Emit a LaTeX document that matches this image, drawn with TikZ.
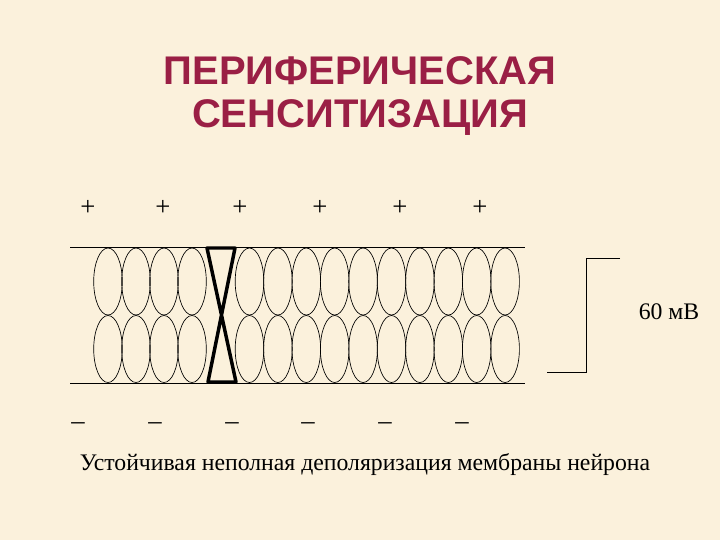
\documentclass[tikz,border=0pt]{standalone}
\usepackage{fontspec}
\setmainfont{Liberation Serif}
\newfontfamily\titlefont{Liberation Sans}
\definecolor{bg}{HTML}{FBF1DC}
\definecolor{ttl}{HTML}{9A1F45}
\begin{document}
\begin{tikzpicture}[x=0.75pt,y=-0.75pt,
  cell/.style={draw,line width=0.5pt},
  sign/.style={font=\fontsize{20}{20}\selectfont},
  lbl/.style={font=\fontsize{17.8}{20}\selectfont}]
\fill[bg] (0,0) rectangle (720,540);
\useasboundingbox (0,0) rectangle (720,540);
\node[font=\titlefont\bfseries\fontsize{30}{32.5}\selectfont,text=ttl,align=center] (title) at (360,96) {ПЕРИФЕРИЧЕСКАЯ\\СЕНСИТИЗАЦИЯ};
\foreach \x [count=\i] in {88,163,240,320,400,480}
  \node[sign] (p\i) at (\x,208) {+};
\foreach \x [count=\i] in {78,155,232,308,385,462}
  \node[sign] (m\i) at (\x,426) {--};
\draw[line width=0.6pt] (70,247) coordinate (tl) -- (525,247) coordinate (tr);
\draw[line width=0.6pt] (70,383) coordinate (bl) -- (525,383) coordinate (br);
\foreach \c in {108,136,164,192}{
  \draw[cell] (\c,281.5) ellipse [x radius=14.3, y radius=33.5];
  \draw[cell] (\c,349) ellipse [x radius=14.3, y radius=33.5];}
\foreach \k in {0,...,9}{
  \pgfmathsetmacro\c{249.5+28.4*\k}
  \draw[cell] (\c,281.5) ellipse [x radius=14.3, y radius=33.5];
  \draw[cell] (\c,349) ellipse [x radius=14.3, y radius=33.5];}
\draw[line width=2.6pt,line join=round] (207,248) -- (235,248) -- (208,382) -- (236,382) -- cycle;
\draw[line width=0.7pt] (620,258) coordinate (s1) -- (586,258) -- (586,372) -- (547,372) coordinate (s2);
\node[lbl] (mv) at (669,312) {60 мВ};
\node[lbl] (cap) at (365,465) {Устойчивая неполная деполяризация мембраны нейрона};
\end{tikzpicture}
\end{document}
